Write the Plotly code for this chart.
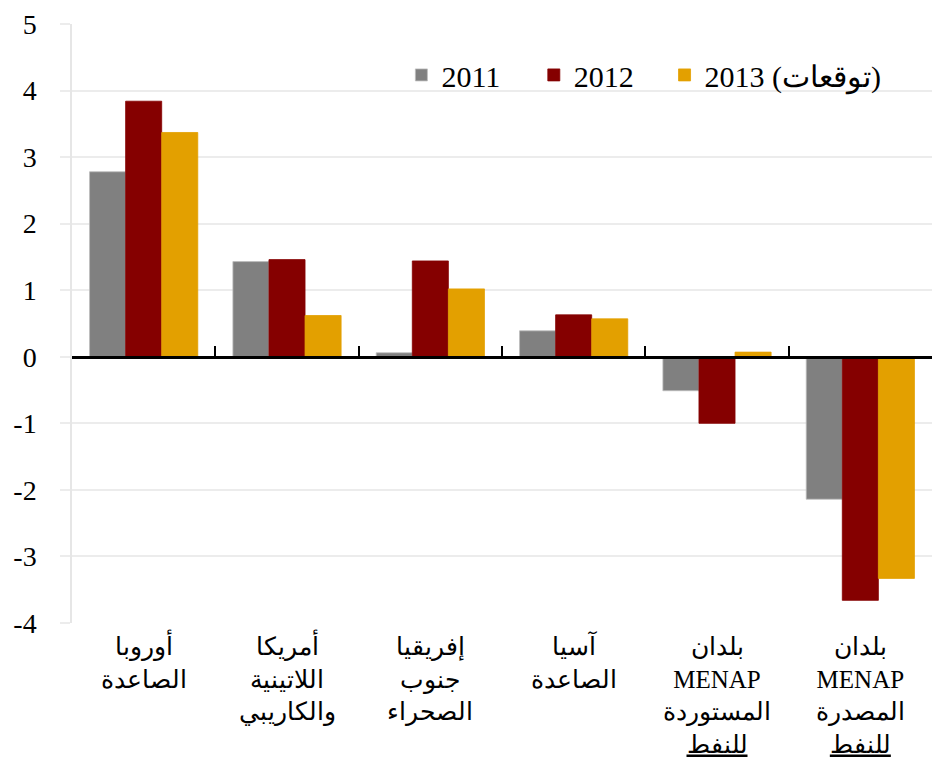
import plotly.graph_objects as go

categories = [
    "أوروبا<br>الصاعدة",
    "أمريكا<br>اللاتينية<br>والكاريبي",
    "إفريقيا<br>جنوب<br>الصحراء",
    "آسيا<br>الصاعدة",
    "بلدان<br>MENAP<br>المستوردة<br><u>للنفط</u>",
    "بلدان<br>MENAP<br>المصدرة<br><u>للنفط</u>",
]
series_names = ["2011", "2012", "2013 (توقعات)"]
v2011 = [2.78, 1.43, 0.06, 0.39, -0.51, -2.14]
v2012 = [3.84, 1.46, 1.44, 0.63, -1.00, -3.66]
v2013 = [3.37, 0.62, 1.02, 0.57, 0.07, -3.33]
y_ticks = [5, 4, 3, 2, 1, 0, -1, -2, -3, -4]
y_ticktext = ["5", "4", "3", "2", "1", "0", "-1", "-2", "-3", "-4"]

colors = ["#808080", "#850000", "#e3a000"]
line_colors = ["#bdbdbd", "#850000", "#e3a000"]
legend_ids = ["legend", "legend2", "legend3"]
legend_x = [0.383, 0.537, 0.689]

SERIF = "Liberation Serif, Times New Roman, serif"

fig = go.Figure()
for name, vals, c, lc, lg in zip(series_names, [v2011, v2012, v2013], colors, line_colors, legend_ids):
    fig.add_trace(go.Bar(x=categories, y=vals, name=name, legend=lg,
                         marker=dict(color=c, line=dict(color=lc, width=0.8)),
                         xaxis="x", yaxis="y"))

# helper invisible trace for the bottom label axis
fig.add_trace(go.Scatter(x=categories, y=[None] * len(categories), xaxis="x2", yaxis="y",
                         showlegend=False, hoverinfo="skip", mode="markers"))

ymin, ymax = -4, 5
zero_pos = (0 - ymin) / (ymax - ymin)

legend_style = dict(
    orientation="h", xanchor="left", y=0.915, yanchor="middle",
    font=dict(size=30, family=SERIF, color="black"),
    bgcolor="rgba(0,0,0,0)", itemwidth=30,
)

fig.update_layout(
    width=952, height=782,
    margin=dict(l=64, r=28, t=16, b=167),
    plot_bgcolor="white", paper_bgcolor="white",
    barmode="group", bargap=0.245, bargroupgap=0,
    font=dict(family=SERIF, color="black"),
    xaxis=dict(
        type="category", categoryorder="array", categoryarray=categories,
        range=[-0.5, 5.5],
        anchor="free", position=zero_pos,
        showline=True, linecolor="black", linewidth=2.5,
        ticks="inside", tickson="boundaries", ticklen=10, tickwidth=2, tickcolor="black",
        showticklabels=False, showgrid=False, zeroline=False, automargin=False,
    ),
    xaxis2=dict(
        type="category", categoryorder="array", categoryarray=categories,
        range=[-0.5, 5.5], overlaying="x", anchor="y", side="bottom",
        showline=False, ticks="", showgrid=False, zeroline=False, automargin=False,
        tickfont=dict(size=25, family=SERIF, color="black"),
        ticklabelstandoff=6,
    ),
    yaxis=dict(
        range=[ymin, ymax], tickvals=y_ticks, ticktext=y_ticktext,
        showgrid=True, gridcolor="#ececec", gridwidth=1.5,
        showline=True, linecolor="#e6e6e6", linewidth=1.5,
        ticks="outside", ticklen=10, tickcolor="#ececec", tickwidth=1.5,
        ticklabelstandoff=18, automargin=False,
        tickfont=dict(size=28, family=SERIF, color="black"),
        zeroline=False,
    ),
    legend=dict(x=legend_x[0], **legend_style),
    legend2=dict(x=legend_x[1], **legend_style),
    legend3=dict(x=legend_x[2], **legend_style),
)

fig.write_html("out.html")
